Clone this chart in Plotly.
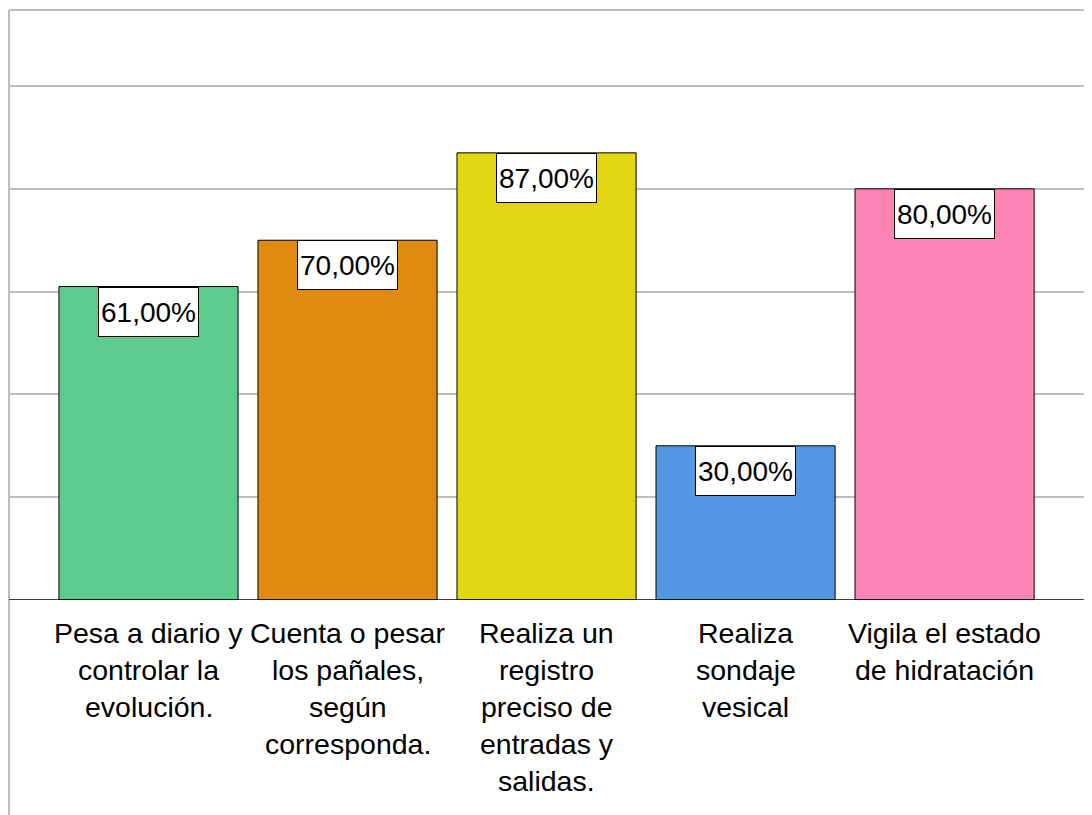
import plotly.graph_objects as go

categories = [
    "Pesa a diario y<br>controlar la<br>evolución.",
    "Cuenta o pesar<br>los pañales,<br>según<br>corresponda.",
    "Realiza un<br>registro<br>preciso de<br>entradas y<br>salidas.",
    "Realiza<br>sondaje<br>vesical",
    "Vigila el estado<br>de hidratación",
]
values = [61, 70, 87, 30, 80]
value_labels = ["61,00%", "70,00%", "87,00%", "30,00%", "80,00%"]
colors = ["#5CCB8C", "#E08A12", "#E2D612", "#5497E3", "#FF84B6"]

FONT = "Liberation Sans, Arial, sans-serif"
x_idx = list(range(len(categories)))

fig = go.Figure()
fig.add_trace(go.Bar(
    x=x_idx, y=values, width=0.9,
    marker=dict(color=colors, line=dict(color="black", width=1)),
    hoverinfo="skip",
))

annotations = []
for i, (v, lab) in enumerate(zip(values, value_labels)):
    annotations.append(dict(
        x=i, y=v, xref="x", yref="y", text=lab, showarrow=False,
        yanchor="top", xanchor="center", width=99, height=48,
        bgcolor="white", bordercolor="black", borderwidth=1, borderpad=0,
        font=dict(family=FONT, size=28, color="black"),
    ))
for i, cat in enumerate(categories):
    for k, line in enumerate(cat.split("<br>")):
        annotations.append(dict(
            x=i, y=0, xref="x", yref="y", text=line, showarrow=False,
            yanchor="middle", xanchor="center", yshift=-(33 + 37 * k),
            font=dict(family=FONT, size=28.5, color="black"),
        ))

shapes = [
    dict(type="line", xref="paper", yref="paper", x0=0, x1=1, y0=1, y1=1,
         line=dict(color="#BDBDBD", width=2)),
    dict(type="line", xref="paper", yref="paper", x0=0, x1=0, y0=1, y1=-0.4,
         line=dict(color="#BDBDBD", width=2)),
    dict(type="line", xref="paper", yref="y", x0=0, x1=1, y0=0, y1=0,
         line=dict(color="black", width=1.5), layer="above"),
]

fig.update_layout(
    width=1092, height=815,
    margin=dict(l=1, r=0, t=2, b=223),
    paper_bgcolor="white", plot_bgcolor="white",
    showlegend=False,
    annotations=annotations, shapes=shapes,
    xaxis=dict(range=[-0.701, 4.781], showticklabels=False, showgrid=False,
               zeroline=False, ticks=""),
    yaxis=dict(range=[0, 114.8], tickvals=[20, 40, 60, 80, 100],
               showticklabels=False, showgrid=True, gridcolor="#BDBDBD",
               gridwidth=1.5, zeroline=False, ticks=""),
)

fig.write_html("out.html")
